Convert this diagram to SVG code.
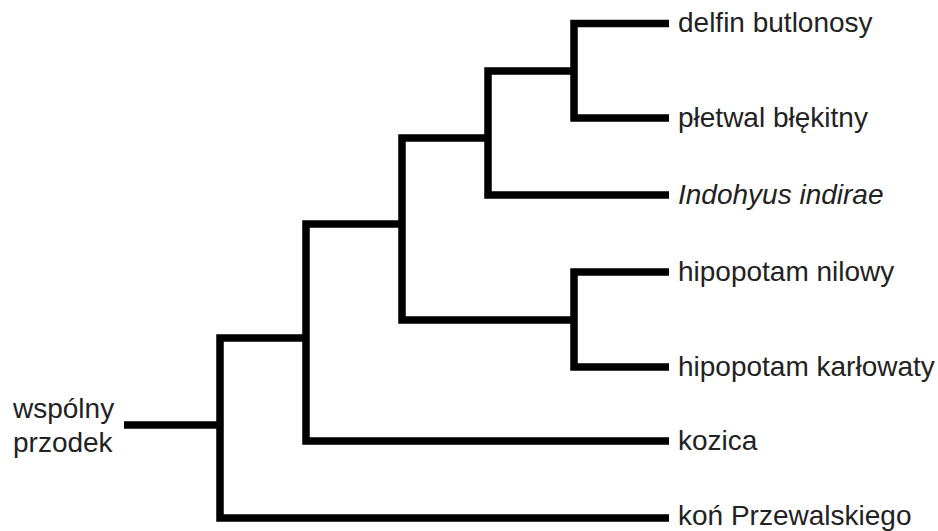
<svg xmlns="http://www.w3.org/2000/svg" width="938" height="531" viewBox="0 0 938 531">
<style>
.br{fill:none;stroke:#000;stroke-width:7.5;stroke-linejoin:miter;stroke-linecap:butt}
text{font-family:"Liberation Sans",Arial,sans-serif;font-size:28px;fill:#222}
.it{font-style:italic}
</style>
<rect width="938" height="531" fill="#fff"/>
<g id="connectors">
<path class="br" d="M124 425 H220"/>
<path class="br" d="M306 338 H220 V518 H669"/>
<path class="br" d="M402 224 H306 V441 H669"/>
<path class="br" d="M488 138 H402 V320 H574"/>
<path class="br" d="M574 71 H488 V195 H669"/>
<path class="br" d="M669 23.5 H574 V118 H669"/>
<path class="br" d="M669 272 H574 V367 H669"/>
</g>
<g id="root"><text x="13" y="418">wspólny</text><text x="13" y="452">przodek</text></g>
<g id="delfin"><text x="678" y="32">delfin butlonosy</text></g>
<g id="pletwal"><text x="678" y="127">płetwal błękitny</text></g>
<g id="indohyus"><text class="it" x="678" y="204">Indohyus indirae</text></g>
<g id="hipopotam-nilowy"><text x="678" y="281">hipopotam nilowy</text></g>
<g id="hipopotam-karlowaty"><text x="678" y="376">hipopotam karłowaty</text></g>
<g id="kozica"><text x="678" y="450">kozica</text></g>
<g id="kon"><text x="678" y="525">koń Przewalskiego</text></g>
</svg>
